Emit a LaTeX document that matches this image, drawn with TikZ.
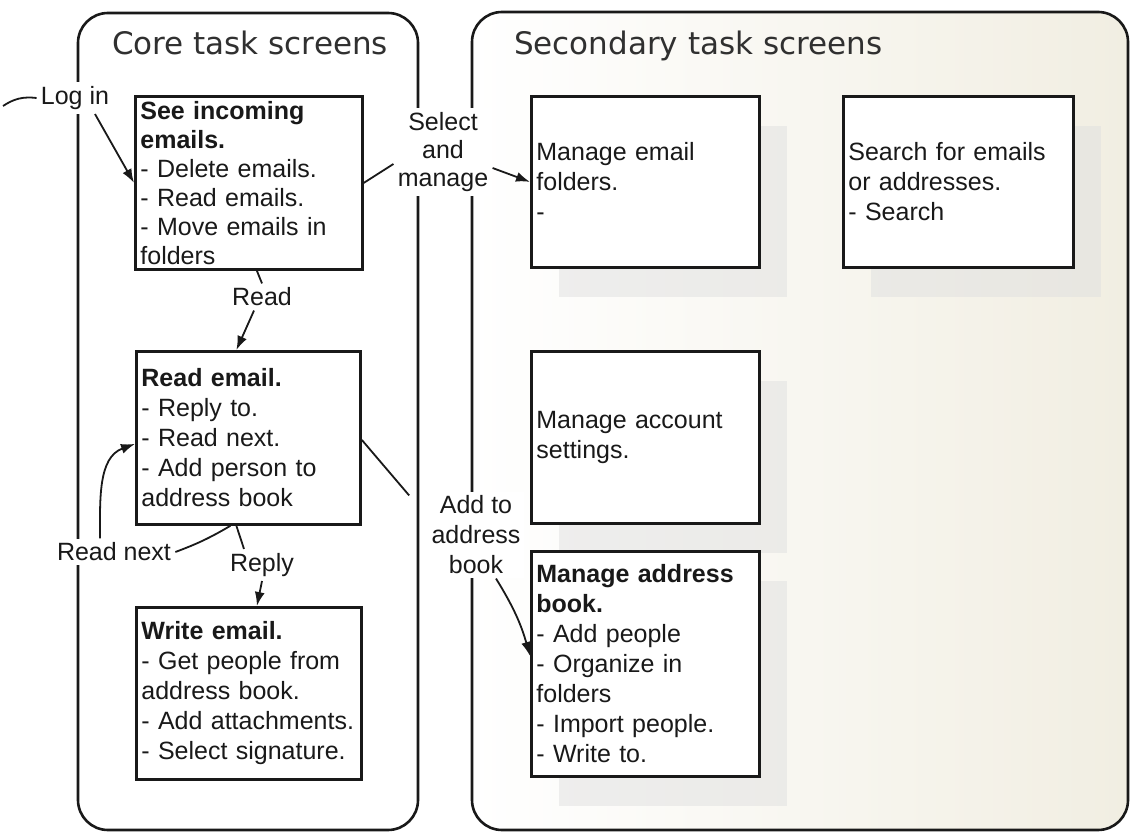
\documentclass[tikz,border=0pt]{standalone}
\usepackage{fontspec}
\setmainfont{Liberation Sans}
\newfontfamily\titlefont{DejaVu Sans}
\usetikzlibrary{shadows,arrows.meta}

\definecolor{tint}{RGB}{241,238,226}
\definecolor{ink}{RGB}{25,25,25}

\tikzset{
  panel/.style={draw=ink, line width=1.3pt, rounded corners=15pt},
  paneltitle/.style={text=ink!90, font=\titlefont\fontsize{15.5}{18}\selectfont},
  screen/.style={draw=ink, line width=1.4pt, fill=white, anchor=north west,
    inner xsep=2.5pt, inner ysep=0pt, align=left, text=ink,
    font=\fontsize{12.5}{15}\selectfont},
  shadowed/.style={drop shadow={shadow xshift=14pt, shadow yshift=-15pt,
    fill=black!12, opacity=.5}},
  lbl/.style={align=center, fill=white, inner sep=2pt, text=ink,
    font=\fontsize{12.5}{15}\selectfont},
  conn/.style={draw=ink, line width=0.9pt}
}

\begin{document}
\begin{tikzpicture}[x=0.5pt, y=0.5pt, >={Latex[length=7pt,width=5pt]}]
	\useasboundingbox (0,0) rectangle (1134,835);
	
	% Panels
	\draw[panel, fill=white] (78,5) rectangle (418,822);
	\draw[panel, left color=white, right color=tint] (472,5) rectangle (1128,823);
	\node[paneltitle, anchor=base] (coretitle) at (250,780) {Core task screens};
	\node[paneltitle, anchor=base west] (sectitle) at (507,780) {Secondary task screens};
	
	% Core screens
	\node[screen, text width=108.5pt, minimum height=86.5pt, font=\fontsize{12.5}{14.5}\selectfont] (incoming) at (134,740)
		{\textbf{See incoming}\\\textbf{emails.}\\- Delete emails.\\- Read emails.\\- Move emails in\\folders};
	\node[screen, text width=107pt, minimum height=86.5pt] (readmail) at (135,485)
		{\textbf{Read email.}\\- Reply to.\\- Read next.\\- Add person to\\address book};
	\node[screen, text width=107.5pt, minimum height=86pt] (writemail) at (135,229)
		{\textbf{Write email.}\\- Get people from\\address book.\\- Add attachments.\\- Select signature.};
	
	% Secondary screens
	\node[screen, shadowed, text width=109pt, minimum height=85.5pt] (folders) at (530,740)
		{Manage email\\folders.\\-};
	\node[screen, shadowed, text width=110pt, minimum height=85.5pt] (search) at (842,740)
		{Search for emails\\or addresses.\\- Search};
	\node[screen, shadowed, text width=109pt, minimum height=86pt] (account) at (530,485)
		{Manage account\\settings.};
	\node[screen, shadowed, text width=109pt, minimum height=112.5pt] (addrbook) at (530,285)
		{\textbf{Manage address}\\\textbf{book.}\\- Add people\\- Organize in\\folders\\- Import people.\\- Write to.};
	
	% Transition labels
	\coordinate (loginstart) at (3,729);
	\node[lbl] (login) at (75,737) {Log in};
	\node[lbl, font=\fontsize{12.5}{14}\selectfont] (select) at (443,683) {Select\\and\\manage};
	\node[lbl] (read) at (262,538) {Read};
	\node[lbl] (readnext) at (114,283) {Read next};
	\node[lbl] (reply) at (262,270) {Reply};
	\node[lbl] (addto) at (476,300) {Add to\\address\\book};
	
	% Transitions
	\draw[conn] (loginstart) to[bend left=20] (login.west);
	\draw[conn, ->] ([xshift=10pt]login.south) -- (incoming.west);
	\draw[conn] (incoming.east) -- ([yshift=-6pt]select.west);
	\draw[conn, ->] ([yshift=-8pt]select.east) -- (folders.west);
	\draw[conn] ([xshift=4pt]incoming.south) -- (read.north);
	\draw[conn, ->] ([xshift=-4pt]read.south) -- ([xshift=-6pt]readmail.north);
	\draw[conn] (readnext.east) to[bend right=5] ([xshift=-9pt]readmail.south);
	\draw[conn, ->] ([xshift=-7pt]readnext.north) to[out=90, in=200] ([yshift=-3pt]readmail.west);
	\draw[conn] ([xshift=-6pt]readmail.south) -- ([xshift=-9pt]reply.north);
	\draw[conn, ->] (reply.south) -- ([xshift=4pt]writemail.north);
	\draw[conn] ([yshift=-1pt]readmail.east) -- ([xshift=-9pt,yshift=-2pt]addto.north west);
	\draw[conn, ->] ([xshift=10pt]addto.south) to[bend left=8] ([yshift=4pt]addrbook.west);
\end{tikzpicture}
\end{document}
